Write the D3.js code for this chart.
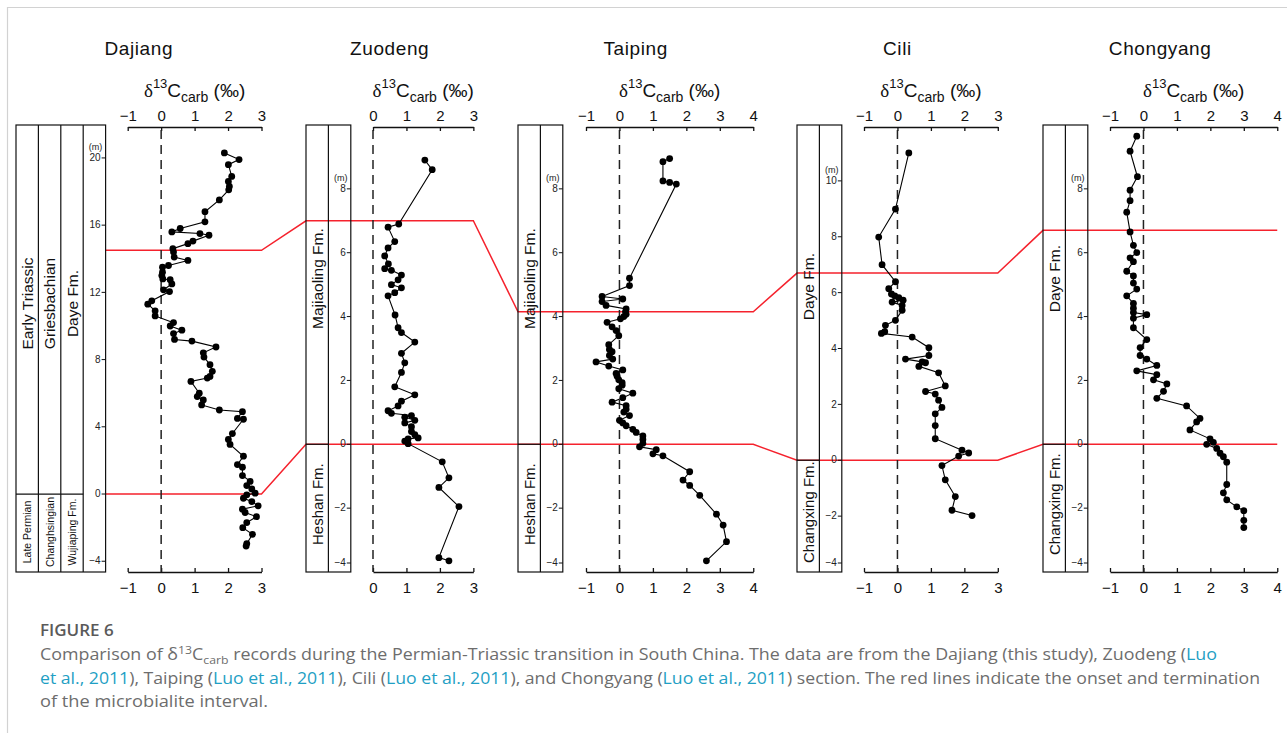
<!DOCTYPE html>
<html>
<head>
<meta charset="utf-8">
<script src="https://cdn.jsdelivr.net/npm/d3@7"></script>
<style>
  body { margin: 0; background: #fff; }
  svg { display: block; }
  text { font-family: Arial, "Liberation Sans", sans-serif; }
</style>
</head>
<body>
<div id="chart"></div>
<script>
// ---- data ----
var sectionNames = ["Dajiang", "Zuodeng", "Taiping", "Cili", "Chongyang"];

var dajiangC = [1.89, 2.33, 2.01, 2.11, 2.01, 2.04, 2.02, 1.74, 1.31, 1.31, 0.57, 0.32, 1.16, 1.43, 0.95, 0.8, 0.35, 0.37, 0.39, 0.8,
  0.22, 0.04, 0.04, 0.02, 0.05, 0.27, 0.32, 0.07, 0.25, -0.28, -0.4, -0.18, -0.18, 0.37, 0.27, 0.62, 0.37, 0.4, 0.92, 1.64,
  1.26, 1.28, 1.46, 1.53, 1.46, 1.38, 0.89, 1.14, 1.08, 1.26, 1.21, 1.74, 2.43, 2.28, 2.46, 2.13, 2.01, 2.06, 2.46, 2.28,
  2.43, 2.43, 2.66, 2.56, 2.71, 2.81, 2.56, 2.46, 2.71, 2.9, 2.43, 2.51, 2.85, 2.56, 2.44, 2.73, 2.56, 2.54];
var dajiangDepth = [20.3, 19.9, 19.6, 18.9, 18.6, 18.3, 18.1, 17.5, 16.8, 16.2, 15.8, 15.6, 15.5, 15.4, 15.05, 14.9, 14.6, 14.4, 14.1, 13.9,
  13.6, 13.5, 13.2, 13.0, 12.8, 12.75, 12.5, 12.15, 12.05, 11.5, 11.3, 10.9, 10.6, 10.2, 10.0, 9.75, 9.55, 9.2, 9.1, 8.75,
  8.4, 8.15, 7.7, 7.3, 7.0, 6.9, 6.7, 6.0, 5.8, 5.6, 5.3, 5.0, 4.9, 4.5, 4.45, 3.6, 3.25, 2.95, 2.25, 1.75,
  1.6, 1.1, 0.75, 0.5, 0.3, 0.05, -0.05, -0.25, -0.45, -0.7, -0.9, -1.1, -1.35, -1.7, -2.0, -2.4, -2.95, -3.1];

var zuodengC = [1.55, 1.77, 0.77, 0.45, 0.65, 0.45, 0.35, 0.46, 0.35, 0.55, 0.85, 0.75, 0.55, 0.85, 0.65, 0.45, 0.66, 0.75, 0.85, 1.25,
  0.85, 0.95, 0.85, 0.65, 1.25, 0.85, 0.75, 0.45, 0.55, 1.15, 0.95, 1.25, 0.95, 1.15, 1.15, 1.25, 1.35, 1.05, 0.95, 1.05,
  2.07, 2.27, 1.97, 2.57, 1.97, 2.27];
var zuodengDepth = [8.9, 8.6, 6.9, 6.8, 6.35, 6.15, 5.9, 5.65, 5.5, 5.45, 5.3, 5.15, 5.0, 4.9, 4.75, 4.65, 4.05, 3.65, 3.5, 3.2,
  2.85, 2.55, 2.25, 1.8, 1.55, 1.35, 1.2, 1.05, 0.97, 0.9, 0.85, 0.75, 0.67, 0.55, 0.4, 0.3, 0.2, 0.17, 0.1, 0.02,
  -0.55, -1.05, -1.35, -1.95, -3.55, -3.65];

var taipingC = [1.5, 1.3, 1.3, 1.5, 1.7, 0.3, 0.3, -0.52, 0.1, -0.52, -0.4, 0.2, 0.18, 0.2, 0.13, 0.03, -0.37, -0.22, -0.1, -0.02,
  -0.32, -0.3, -0.22, -0.3, -0.2, -0.7, -0.32, 0.1, -0.1, -0.07, -0.02, 0.08, 0.08, -0.02, 0.4, 0.1, -0.22, 0.2, 0.2, 0.13,
  0.3, 0.0, 0.1, 0.2, 0.4, 0.5, 0.7, 0.7, 0.7, 0.6, 1.1, 1.0, 1.3, 2.1, 1.9, 2.1, 2.4, 2.9, 3.1, 3.2, 2.6];
var taipingDepth = [8.95, 8.85, 8.25, 8.2, 8.15, 5.2, 4.97, 4.63, 4.55, 4.47, 4.35, 4.24, 4.15, 4.07, 4.0, 3.93, 3.82, 3.68, 3.56, 3.4,
  3.12, 2.97, 2.9, 2.78, 2.67, 2.58, 2.45, 2.33, 2.22, 2.13, 2.02, 1.93, 1.85, 1.74, 1.6, 1.46, 1.32, 1.21, 1.1, 1.01,
  0.9, 0.75, 0.67, 0.58, 0.47, 0.37, 0.26, 0.15, 0.03, -0.08, -0.17, -0.3, -0.36, -0.86, -1.12, -1.29, -1.6, -2.19, -2.53, -3.05, -3.65];

var ciliC = [0.34, -0.06, -0.56, -0.46, -0.06, -0.26, -0.18, -0.08, 0.04, 0.17, -0.16, 0.14, 0.14, -0.06, -0.36, -0.38, -0.48, 0.44, 0.94, 0.94,
  0.24, 0.74, 0.84, 0.64, 1.23, 1.43, 0.84, 1.13, 1.23, 1.33, 1.13, 1.13, 1.13, 1.93, 2.13, 1.83, 1.33, 1.43, 1.73, 1.63, 2.23];
var ciliDepth = [11.0, 8.99, 7.99, 7.0, 6.39, 6.14, 5.95, 5.88, 5.82, 5.73, 5.66, 5.54, 5.37, 5.01, 4.83, 4.6, 4.54, 4.41, 4.03, 3.75,
  3.62, 3.52, 3.49, 3.36, 3.13, 2.66, 2.46, 2.37, 2.15, 1.89, 1.66, 1.24, 0.77, 0.36, 0.26, 0.15, -0.19, -0.7, -1.3, -1.79, -1.98];

var chongyangC = [-0.2, -0.4, -0.18, -0.4, -0.4, -0.5, -0.4, -0.3, -0.2, -0.4, -0.3, -0.5, -0.3, -0.3, -0.2, -0.5, -0.3, -0.3, -0.3, 0.1,
  -0.3, -0.3, 0.1, -0.1, -0.1, 0.1, 0.4, -0.2, 0.4, 0.3, 0.7, 0.6, 0.4, 1.29, 1.69, 1.59, 1.39, 1.99, 2.09, 1.89,
  2.19, 2.29, 2.39, 2.49, 2.49, 2.39, 2.49, 2.79, 3.0, 3.0, 3.0];
var chongyangDepth = [9.65, 9.18, 8.38, 7.96, 7.63, 7.27, 6.65, 6.23, 6.0, 5.84, 5.72, 5.42, 5.27, 5.05, 4.86, 4.65, 4.41, 4.26, 4.13, 4.06,
  3.95, 3.65, 3.28, 3.03, 2.78, 2.67, 2.47, 2.3, 2.18, 2.02, 1.89, 1.66, 1.44, 1.2, 0.81, 0.7, 0.45, 0.17, 0.06, 0.0,
  -0.13, -0.28, -0.39, -0.56, -1.26, -1.52, -1.74, -1.96, -2.08, -2.38, -2.61];

var carbonValues = [dajiangC, zuodengC, taipingC, ciliC, chongyangC];
var depthValues = [dajiangDepth, zuodengDepth, taipingDepth, ciliDepth, chongyangDepth];

var xTickLabels = [[-1, 0, 1, 2, 3], [0, 1, 2, 3], [-1, 0, 1, 2, 3, 4], [-1, 0, 1, 2, 3], [-1, 0, 1, 2, 3, 4]];
var depthTickLabels = [[-4, 0, 4, 8, 12, 16, 20], [-4, -2, 0, 2, 4, 6, 8], [-4, -2, 0, 2, 4, 6, 8],
  [-4, -2, 0, 2, 4, 6, 8, 10], [-4, -2, 0, 2, 4, 6, 8]];
var depthExtent = [[-4.64, 21.96], [-4, 10], [-4, 10], [-4, 12], [-4, 10]];

var upperUnits = [["Early Triassic", "Griesbachian", "Daye Fm."], ["Majiaoling Fm."], ["Majiaoling Fm."], ["Daye Fm."], ["Daye Fm."]];
var lowerUnits = [["Late Permian", "Changhsingian", "Wujiaping Fm."], ["Heshan Fm."], ["Heshan Fm."], ["Changxing Fm."], ["Changxing Fm."]];

// microbialite interval (m): onset and termination in each section
var microbialiteBase = [0, 0, 0, 0, 0];
var microbialiteTop = [14.5, 7.0, 4.15, 6.7, 6.7];

// ---- layout ----
var W = 1287, H = 733;
var plotTop = 125, plotBottom = 572, axisTopY = 127;
var colW = 22.4, unit = 33.45;
var colLeft = [16, 306, 518, 797, 1043];
var axisLeft = [127.7, 373, 586, 864, 1110];

var svg = d3.select("#chart").append("svg")
  .attr("width", W).attr("height", H);

// card border
svg.append("path")
  .attr("d", "M7.5," + H + "V7.5H" + W)
  .attr("fill", "none").attr("stroke", "#d2d2d2").attr("stroke-width", 1.2);

var sections = sectionNames.map(function (name, i) {
  var xd = d3.extent(xTickLabels[i]);
  var x = d3.scaleLinear().domain(xd).range([axisLeft[i], axisLeft[i] + (xd[1] - xd[0]) * unit]);
  var y = d3.scaleLinear().domain(depthExtent[i]).range([plotBottom, plotTop]);
  var n = upperUnits[i].length;
  return { name: name, i: i, x: x, y: y, n: n, left: colLeft[i], depthRight: colLeft[i] + (n + 1) * colW };
});

// red correlation lines
function redLine(depths) {
  var pts = [];
  sections.forEach(function (s, i) {
    var yy = s.y(depths[i]);
    pts.push([i === 0 ? s.depthRight : s.left, yy]);
    pts.push([s.x.range()[1], yy]);
  });
  return pts;
}
[microbialiteTop, microbialiteBase].forEach(function (d) {
  svg.append("path")
    .attr("d", d3.line()(redLine(d)))
    .attr("fill", "none").attr("stroke", "#f5222d").attr("stroke-width", 1.5);
});

sections.forEach(function (s) {
  var g = svg.append("g");
  var i = s.i;
  var y0 = s.y(0);

  // stratigraphic column
  g.append("rect")
    .attr("x", s.left).attr("y", plotTop)
    .attr("width", s.depthRight - s.left).attr("height", plotBottom - plotTop)
    .attr("fill", "none").attr("stroke", "#111").attr("stroke-width", 1.2);
  for (var c = 1; c <= s.n; c++) {
    g.append("line")
      .attr("x1", s.left + c * colW).attr("x2", s.left + c * colW)
      .attr("y1", plotTop).attr("y2", plotBottom)
      .attr("stroke", "#111").attr("stroke-width", 1.2);
  }
  g.append("line")
    .attr("x1", s.left).attr("x2", s.left + s.n * colW)
    .attr("y1", y0).attr("y2", y0)
    .attr("stroke", "#111").attr("stroke-width", 1.2);

  upperUnits[i].forEach(function (t, c) {
    var cx = s.left + (c + 0.5) * colW, cy = (plotTop + y0) / 2 - 6;
    g.append("text")
      .attr("transform", "translate(" + cx + "," + cy + ") rotate(-90)")
      .attr("text-anchor", "middle").attr("dominant-baseline", "central")
      .style("font-size", "15.5px").attr("fill", "#111").text(t);
  });
  lowerUnits[i].forEach(function (t, c) {
    var cx = s.left + (c + 0.5) * colW, cy = (y0 + plotBottom) / 2 - (s.n > 1 ? 1 : 4);
    g.append("text")
      .attr("transform", "translate(" + cx + "," + cy + ") rotate(-90)")
      .attr("text-anchor", "middle").attr("dominant-baseline", "central")
      .style("font-size", s.n > 1 ? "10.5px" : "15px").attr("fill", "#111").text(t);
  });

  // depth axis
  var dAxis = g.append("g")
    .attr("transform", "translate(" + s.depthRight + ",0)")
    .call(d3.axisLeft(s.y).tickValues(depthTickLabels[i]).tickSize(4).tickSizeOuter(0).tickPadding(1));
  dAxis.select(".domain").remove();
  dAxis.selectAll(".tick").attr("transform", function (d) {
    var yy = Math.min(s.y(d), plotBottom - 9);
    return "translate(0," + yy + ")";
  });
  dAxis.selectAll("line").attr("stroke", "#111");
  dAxis.selectAll("text").style("font-size", "10px").attr("fill", "#222")
    .style("font-family", "Arial, 'Liberation Sans', sans-serif");
  var topTick = d3.max(depthTickLabels[i]);
  g.append("text")
    .attr("x", s.depthRight - 10).attr("y", s.y(topTick) - 8)
    .attr("text-anchor", "middle").style("font-size", "9px").attr("fill", "#222").text("(m)");

  // carbon isotope axes
  var axT = g.append("g").attr("transform", "translate(0," + axisTopY + ")")
    .call(d3.axisTop(s.x).tickValues(xTickLabels[i]).tickSize(-4).tickSizeOuter(0).tickPadding(6).tickFormat(d3.format("d")));
  var axB = g.append("g").attr("transform", "translate(0," + plotBottom + ")")
    .call(d3.axisBottom(s.x).tickValues(xTickLabels[i]).tickSize(-4).tickSizeOuter(0).tickPadding(10).tickFormat(d3.format("d")));
  [axT, axB].forEach(function (a) {
    a.selectAll("path, line").attr("stroke", "#111").attr("stroke-width", 1.3);
    a.selectAll("text").style("font-size", "15px").attr("fill", "#111")
      .style("font-family", "Arial, 'Liberation Sans', sans-serif");
  });

  // zero line
  g.append("line")
    .attr("x1", s.x(0)).attr("x2", s.x(0))
    .attr("y1", axisTopY + 3).attr("y2", plotBottom)
    .attr("stroke", "#222").attr("stroke-width", 1.5).attr("stroke-dasharray", "9,6");

  // record
  var pts = carbonValues[i].map(function (v, k) { return [v, depthValues[i][k]]; });
  g.append("path")
    .attr("d", d3.line().x(function (d) { return s.x(d[0]); }).y(function (d) { return s.y(d[1]); })(pts))
    .attr("fill", "none").attr("stroke", "#000").attr("stroke-width", 1.1);
  g.selectAll("circle.pt").data(pts).enter().append("circle")
    .attr("cx", function (d) { return s.x(d[0]); })
    .attr("cy", function (d) { return s.y(d[1]); })
    .attr("r", 3.4).attr("fill", "#000");

  // section title and axis label
  g.append("text")
    .attr("x", (s.left + s.x.range()[1]) / 2).attr("y", 55)
    .attr("text-anchor", "middle").style("font-size", "19px").style("letter-spacing", "0.6px")
    .attr("fill", "#111").text(s.name);
  var lab = g.append("text")
    .attr("x", (s.x.range()[0] + s.x.range()[1]) / 2).attr("y", 97)
    .attr("text-anchor", "middle").style("font-size", "19px").attr("fill", "#111");
  lab.append("tspan").style("font-family", "'Liberation Serif', 'DejaVu Serif', serif").text("δ");
  lab.append("tspan").attr("dy", -9).style("font-size", "13px").text("13");
  lab.append("tspan").attr("dy", 9).text("C");
  lab.append("tspan").attr("dy", 5).style("font-size", "14px").text("carb");
  lab.append("tspan").attr("dy", -5).text(" (‰)");
});

// ---- caption ----
var capFont = "'Open Sans', 'Noto Sans', sans-serif";
var capGrey = "#6d6d6d", link = "#1f9fc4";
svg.append("text")
  .attr("x", 40).attr("y", 636)
  .style("font-family", capFont).style("font-size", "17px").style("font-weight", 600)
  .attr("fill", "#5a5a5a").text("FIGURE 6");

var capLines = [
  { y: 660, len: 1177, parts: [
    ["Comparison of δ"], ["13", "sup"], ["C"], ["carb", "sub"],
    [" records during the Permian-Triassic transition in South China. The data are from the Dajiang (this study), Zuodeng ("],
    ["Luo", "link"]] },
  { y: 684, len: 1220, parts: [
    ["et al., 2011", "link"], ["), Taiping ("], ["Luo et al., 2011", "link"], ["), Cili ("], ["Luo et al., 2011", "link"],
    ["), and Chongyang ("], ["Luo et al., 2011", "link"], [") section. The red lines indicate the onset and termination"]] },
  { y: 707, len: 228, parts: [["of the microbialite interval."]] }
];
capLines.forEach(function (ln) {
  var t = svg.append("text")
    .attr("x", 40).attr("y", ln.y)
    .attr("textLength", ln.len).attr("lengthAdjust", "spacingAndGlyphs")
    .style("font-family", capFont).style("font-size", "16px").attr("fill", capGrey);
  var shift = 0;
  ln.parts.forEach(function (p) {
    var sp = t.append("tspan").text(p[0]);
    var want = p[1] === "sup" ? -6 : p[1] === "sub" ? 4 : 0;
    if (want !== shift) { sp.attr("dy", want - shift); shift = want; }
    if (p[1] === "sup" || p[1] === "sub") sp.style("font-size", "11px");
    if (p[1] === "link") sp.attr("fill", link);
  });
});
</script>
</body>
</html>
